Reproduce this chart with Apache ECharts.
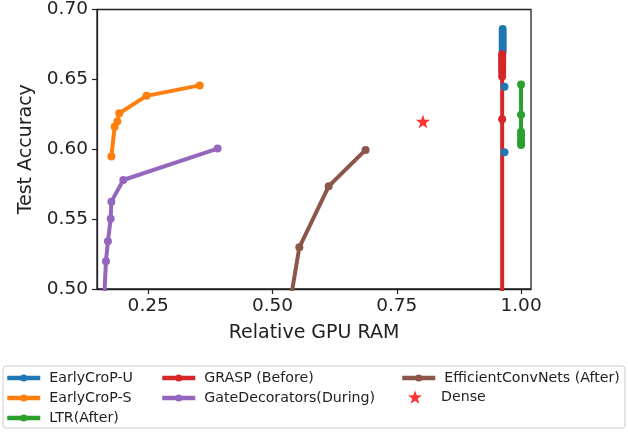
<!DOCTYPE html>
<html>
<head>
<meta charset="utf-8">
<script src="https://cdn.jsdelivr.net/npm/echarts@6/dist/echarts.min.js"></script>
<style>
  html, body { margin: 0; padding: 0; background: #fff; }
  #chart { width: 628px; height: 432px; }
</style>
</head>
<body>
<div id="chart"></div>
<script>
  // [relative GPU RAM, test accuracy]; null breaks the line between the two runs
  const earlyCropU = [[0.963, 0.686], [0.963, 0.684], [0.963, 0.682], [0.963, 0.680], [0.963, 0.678],
    [0.963, 0.676], [0.963, 0.674], [0.963, 0.672], [0.963, 0.670], null, [0.9666, 0.6448], null, [0.9666, 0.5979]]
  const earlyCropS = [[0.1759, 0.5948], [0.1825, 0.6161], [0.1879, 0.6199], [0.1919, 0.6258],
    [0.2466, 0.6382], [0.3535, 0.6457]]
  const ltrAfter = [[1.0, 0.6464], [1.0, 0.6247], [1.0, 0.6125], [1.0, 0.610], [1.0, 0.607], [1.0, 0.605], [1.0, 0.603]]
  const graspBefore = [[0.962, 0.668], [0.962, 0.6665], [0.962, 0.665], [0.962, 0.663], [0.962, 0.661],
    [0.962, 0.659], [0.962, 0.657], [0.962, 0.655], [0.962, 0.652], [0.962, 0.6215], [0.962, 0.45]]
  const gateDecorators = [[0.3896, 0.6005], [0.1999, 0.578], [0.1759, 0.5625], [0.1745, 0.5502],
    [0.169, 0.5341], [0.165, 0.5199], [0.1598, 0.48]]
  const efficientConvNets = [[0.6872, 0.5995], [0.613, 0.5735], [0.554, 0.5298], [0.5306, 0.48]]
  const dense = [[0.8027, 0.6199]]

  const xTicks = [0.25, 0.5, 0.75, 1.0]
  const names = ['EarlyCroP-U', 'EarlyCroP-S', 'LTR(After)', 'GRASP (Before)',
    'GateDecorators(During)', 'EfficientConvNets (After)', 'Dense']
  const colors = ['#1f77b4', '#ff7f0e', '#2ca02c', '#d62728', '#9467bd', '#8c564b', '#ff0000']

  const starPath = 'path://M0,-10L2.35,-3.24L9.51,-3.09L3.8,1.24L5.88,8.09L0,4L-5.88,8.09L-3.8,1.24L-9.51,-3.09L-2.35,-3.24Z'
  const font = 'DejaVu Sans'
  const ink = '#222'

  const lineSeries = (name, data, color) => ({
    name,
    type: 'line',
    data,
    symbol: 'circle',
    symbolSize: 8,
    showSymbol: true,
    connectNulls: false,
    clip: true,
    color,
    lineStyle: { width: 4, color },
    itemStyle: { color }
  })

  const legendBase = {
    orient: 'vertical',
    padding: 0,
    itemWidth: 33,
    itemHeight: 9,
    itemGap: 4,
    lineStyle: { width: 4.5 },
    textStyle: { fontFamily: font, fontSize: 14.2, color: ink, lineHeight: 16, padding: [0, 0, 0, 4] }
  }

  const chart = echarts.init(document.getElementById('chart'))
  chart.setOption({
    animation: false,
    textStyle: { fontFamily: font },
    grid: {
      left: 97, right: 97, top: 7, bottom: 143,
      show: true, borderColor: ink, borderWidth: 1.3, backgroundColor: 'transparent'
    },
    xAxis: {
      type: 'value',
      min: 0.147,
      max: 1.02,
      name: 'Relative GPU RAM',
      nameLocation: 'middle',
      nameGap: 35,
      nameTextStyle: { fontFamily: font, fontSize: 19, color: ink },
      axisLine: { show: true, onZero: false, lineStyle: { color: ink, width: 1.3 } },
      axisTick: { show: true, length: 5, customValues: xTicks, lineStyle: { color: ink, width: 1.2 } },
      axisLabel: {
        margin: 8, fontSize: 18.5, color: ink, fontFamily: font,
        customValues: xTicks, formatter: v => v.toFixed(2)
      },
      splitLine: { show: false }
    },
    yAxis: {
      type: 'value',
      min: 0.5,
      max: 0.7,
      interval: 0.05,
      name: 'Test Accuracy',
      nameLocation: 'middle',
      nameGap: 60,
      nameTextStyle: { fontFamily: font, fontSize: 19, color: ink },
      axisLine: { show: true, lineStyle: { color: ink, width: 1.3 } },
      axisTick: { show: true, length: 5, lineStyle: { color: ink, width: 1.2 } },
      axisLabel: { margin: 9, fontSize: 18.5, color: ink, fontFamily: font, formatter: v => v.toFixed(2) },
      splitLine: { show: false }
    },
    legend: [
      Object.assign({}, legendBase, { left: 5, top: 370, data: [names[0], names[1], names[2]] }),
      Object.assign({}, legendBase, { left: 160, top: 370, data: [names[3], names[4]] }),
      Object.assign({}, legendBase, { left: 400, top: 370, data: [names[5]] }),
      Object.assign({}, legendBase, {
        left: 408, top: 389, itemHeight: 14, itemWidth: 14,
        textStyle: Object.assign({}, legendBase.textStyle, { padding: [0, 0, 0, 14] }),
        data: [{ name: names[6], icon: starPath }]
      })
    ],
    graphic: [{
      type: 'rect',
      shape: { x: 3, y: 366, width: 622, height: 62, r: 3 },
      style: { fill: 'none', stroke: '#cccccc', lineWidth: 1 },
      silent: true
    }],
    series: [
      lineSeries(names[0], earlyCropU, colors[0]),
      lineSeries(names[1], earlyCropS, colors[1]),
      lineSeries(names[2], ltrAfter, colors[2]),
      lineSeries(names[3], graspBefore, colors[3]),
      lineSeries(names[4], gateDecorators, colors[4]),
      lineSeries(names[5], efficientConvNets, colors[5]),
      {
        name: names[6],
        type: 'scatter',
        data: dense,
        symbol: starPath,
        symbolSize: 14,
        itemStyle: { color: colors[6] }
      }
    ]
  })
</script>
</body>
</html>
